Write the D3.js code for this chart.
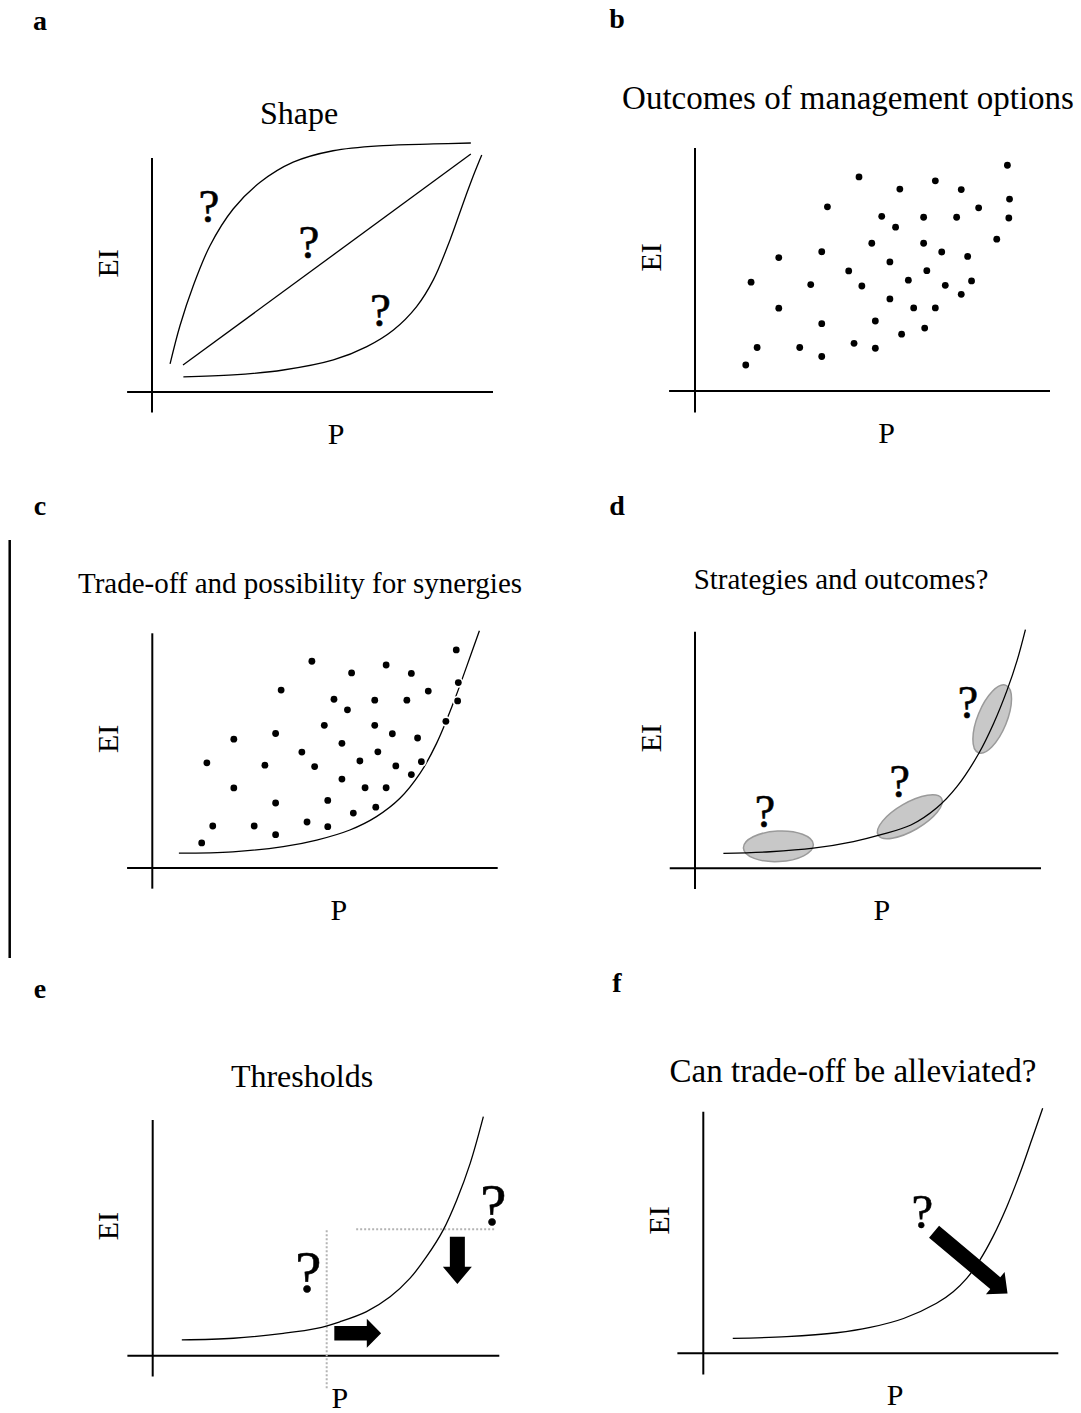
<!DOCTYPE html>
<html>
<head>
<meta charset="utf-8">
<script src="https://cdn.jsdelivr.net/npm/d3@7"></script>
<style>
  body { margin: 0; background: #fff; }
  svg { display: block; font-family: "Liberation Serif", "Times New Roman", serif; }
</style>
</head>
<body>
<div id="fig"></div>
<script>
// ---- data (P, EI in arbitrary units, axes run 0..100) ----
const panelIds = ["a", "b", "c", "d", "e", "f"];
const panelTitles = [
  "Shape",
  "Outcomes of management options",
  "Trade-off and possibility for synergies",
  "Strategies and outcomes?",
  "Thresholds",
  "Can trade-off be alleviated?"
];
const xLabel = "P";
const yLabel = "EI";

// a: three possible shapes of the relationship
const shapeConcave = [[5.3,12.0],[8.2,28.3],[12.1,45.4],[17.0,62.5],[23.8,78.2],[31.7,89.6],[41.4,98.2],[53.1,103.1],[67.8,105.3],[82.5,106.0],[93.5,106.4]];
const shapeLinear = [[9.1,11.5],[93.5,101.7]];
const shapeConvex = [[9.2,6.5],[23.8,7.3],[38.5,9.4],[53.2,13.7],[63.0,19.4],[70.8,26.5],[77.6,36.5],[82.5,47.9],[87.4,65.0],[90.0,75.5],[92.3,84.9],[94.6,93.8],[96.7,101.3]];
const shapeQuestions = [[16.7,72.8],[46.0,57.1],[67.0,28.3]];

// b, c: outcomes of management options
const optionP  = [88.0,46.2,67.7,57.7,75.0,88.6,37.3,79.9,52.6,64.4,73.7,88.4,56.5,85.0,49.8,64.4,23.6,35.7,69.5,76.8,54.9,43.3,65.3,15.8,32.6,47.0,60.1,70.5,77.9,54.9,75.0,23.6,61.6,67.7,35.7,50.8,64.7,58.2,17.5,29.5,44.8,35.7,50.8,14.3];
const optionEI = [92.9,88.1,86.5,83.1,82.9,79.0,75.8,75.4,71.9,71.5,71.5,71.2,67.4,62.5,60.8,60.8,54.9,57.3,57.2,55.4,53.1,49.4,49.5,44.8,43.8,43.2,45.6,43.5,45.3,37.9,39.8,34.1,34.2,34.2,27.7,28.8,25.9,23.4,17.9,17.9,19.6,14.2,17.6,10.7];

// c: trade-off frontier
const frontierC = [[7.7,6.3],[23.3,6.9],[37.9,9.1],[47.6,11.9],[57.2,16.2],[64.9,21.9],[71.7,29.7],[77.5,40.3],[82.3,53.1],[87.1,70.1],[91.0,85.8],[94.7,101.1]];

// d: strategies along the trade-off curve
const frontierD = [[8.2,6.3],[21.7,7.0],[34.2,8.5],[45.8,11.3],[53.5,14.1],[62.4,18.3],[69.9,25.6],[75.7,34.5],[82.0,48.5],[86.3,61.2],[90.2,75.3],[93.1,87.9],[95.5,100.9]];
const strategyP  = [24.1, 62.1, 85.9];
const strategyEI = [9.3, 21.8, 63.1];
const strategyQuestions = [[20.2,17.5],[59.2,30.0],[78.9,63.4]];

// e: thresholds
const frontierE = [[8.4,6.7],[23.3,7.4],[37.7,9.5],[47.3,11.6],[54.0,14.4],[61.7,18.7],[68.5,25.0],[74.2,32.8],[79.0,42.0],[83.8,53.3],[87.7,66.0],[91.6,81.6],[95.4,101.4]];
const thresholdP = 50.2;            // vertical threshold on P
const thresholdEI = 53.6;           // horizontal threshold on EI
const thresholdPSpan = [-13.8, 54.1];
const thresholdEISpan = [58.7, 98.8];
const thresholdArrows = [[[52.4,9.5],[65.9,9.5]], [[87.9,50.5],[87.9,30.4]]];
const thresholdQuestions = [[44.9,27.2],[98.3,55.6]];

// f: can the trade-off be alleviated
const frontierF = [[8.3,6.2],[23.5,6.9],[37.6,8.5],[47.0,10.7],[56.4,14.4],[65.7,20.7],[70.4,25.5],[74.2,31.0],[77.9,38.6],[81.6,48.3],[85.5,60.7],[89.2,74.5],[92.5,88.3],[95.6,101.4]];
const alleviateArrow = [[65.0,50.3],[85.7,24.8]];
const alleviateQuestion = [61.7,51.7];

// ---- layout ----
const panels = [
  { ox: 152,   oy: 392,    w: 341,   h: 234,   title: [299, 123.5, 32],  tag: [40, 30]   },
  { ox: 695,   oy: 391,    w: 355,   h: 243,   title: [848, 109, 33],    tag: [617, 28]  },
  { ox: 152.3, oy: 868,    w: 345.4, h: 234.7, title: [300, 593, 29],    tag: [40, 515]  },
  { ox: 695,   oy: 868.3,  w: 346,   h: 236.6, title: [841, 589, 29],    tag: [617, 515] },
  { ox: 152.7, oy: 1355.7, w: 346.6, h: 235.7, title: [302, 1087, 32],   tag: [40, 998]  },
  { ox: 703.3, oy: 1353.3, w: 355,   h: 241.6, title: [853, 1082, 33],   tag: [617, 992] }
];
const axisStartX = -7.3, axisStartY = -8.8;

const svg = d3.select('#fig')
  .append('svg')
  .attr('width', 1081)
  .attr('height', 1413);

svg.append('rect').attr('width', 1081).attr('height', 1413).attr('fill', '#fff');

// left rule next to panel c
svg.append('line')
  .attr('x1', 9.7).attr('x2', 9.7).attr('y1', 540).attr('y2', 958)
  .attr('stroke', '#000').attr('stroke-width', 2.5);

function curveLine(x, y) {
  return d3.line()
    .x(d => x(d[0]))
    .y(d => y(d[1]))
    .curve(d3.curveCatmullRom.alpha(0.5));
}

function question(g, x, y, d, size) {
  g.append('text')
    .attr('x', x(d[0]))
    .attr('y', y(d[1]))
    .attr('text-anchor', 'middle')
    .attr('font-size', size)
    .attr('stroke', '#000')
    .attr('stroke-width', 0.6)
    .text('?');
}

function blockArrow(g, x, y, from, to, shaft, head, headLen) {
  const x0 = x(from[0]), y0 = y(from[1]), x1 = x(to[0]), y1 = y(to[1]);
  const L = Math.hypot(x1 - x0, y1 - y0);
  const ang = Math.atan2(y1 - y0, x1 - x0) * 180 / Math.PI;
  const p = d3.path();
  p.moveTo(0, -shaft);
  p.lineTo(L - headLen, -shaft);
  p.lineTo(L - headLen, -head);
  p.lineTo(L, 0);
  p.lineTo(L - headLen, head);
  p.lineTo(L - headLen, shaft);
  p.lineTo(0, shaft);
  p.closePath();
  g.append('path')
    .attr('d', p.toString())
    .attr('transform', `translate(${x0},${y0}) rotate(${ang})`)
    .attr('fill', '#000');
}

function dots(g, x, y) {
  const pts = optionP.map((p, i) => [p, optionEI[i]]);
  g.append('g').selectAll('circle')
    .data(pts)
    .join('circle')
      .attr('cx', d => x(d[0]))
      .attr('cy', d => y(d[1]))
      .attr('r', 5.2)
      .attr('fill', '#fff');
  g.append('g').selectAll('circle')
    .data(pts)
    .join('circle')
      .attr('cx', d => x(d[0]))
      .attr('cy', d => y(d[1]))
      .attr('r', 3.4)
      .attr('fill', '#000');
}

const drawers = {
  a(g, x, y) {
    const line = curveLine(x, y);
    [shapeConcave, shapeLinear, shapeConvex].forEach(s => {
      g.append('path').attr('d', line(s))
        .attr('fill', 'none').attr('stroke', '#000').attr('stroke-width', 1.3);
    });
    shapeQuestions.forEach(q => question(g, x, y, q, 47));
  },
  b(g, x, y) {
    dots(g, x, y);
  },
  c(g, x, y) {
    g.append('path').attr('d', curveLine(x, y)(frontierC))
      .attr('fill', 'none').attr('stroke', '#000').attr('stroke-width', 1.3);
    dots(g, x, y);
  },
  d(g, x, y) {
    const shapes = [[35, 15.3, -3], [36.6, 13.9, -30], [36.4, 14.6, -67.7]];
    strategyP.forEach((p, i) => {
      const [rx, ry, rot] = shapes[i];
      g.append('ellipse')
        .attr('rx', rx).attr('ry', ry)
        .attr('transform', `translate(${x(p)},${y(strategyEI[i])}) rotate(${rot})`)
        .attr('fill', '#c8c8c8')
        .attr('stroke', '#9a9a9a')
        .attr('stroke-width', 1.5);
    });
    g.append('path').attr('d', curveLine(x, y)(frontierD))
      .attr('fill', 'none').attr('stroke', '#000').attr('stroke-width', 1.3);
    strategyQuestions.forEach(q => question(g, x, y, q, 46));
  },
  e(g, x, y) {
    g.append('line')
      .attr('x1', x(thresholdP)).attr('x2', x(thresholdP))
      .attr('y1', y(thresholdPSpan[0])).attr('y2', y(thresholdPSpan[1]))
      .attr('stroke', '#b4b4b4').attr('stroke-width', 2).attr('stroke-dasharray', '2,2');
    g.append('line')
      .attr('x1', x(thresholdEISpan[0])).attr('x2', x(thresholdEISpan[1]))
      .attr('y1', y(thresholdEI)).attr('y2', y(thresholdEI))
      .attr('stroke', '#b4b4b4').attr('stroke-width', 2).attr('stroke-dasharray', '2,2');
    g.append('path').attr('d', curveLine(x, y)(frontierE))
      .attr('fill', 'none').attr('stroke', '#000').attr('stroke-width', 1.3);
    blockArrow(g, x, y, thresholdArrows[0][0], thresholdArrows[0][1], 7.2, 14.5, 14.3);
    blockArrow(g, x, y, thresholdArrows[1][0], thresholdArrows[1][1], 7.5, 14.5, 17.3);
    thresholdQuestions.forEach(q => question(g, x, y, q, 59));
  },
  f(g, x, y) {
    g.append('path').attr('d', curveLine(x, y)(frontierF))
      .attr('fill', 'none').attr('stroke', '#000').attr('stroke-width', 1.3);
    blockArrow(g, x, y, alleviateArrow[0], alleviateArrow[1], 7.8, 14.5, 16);
    question(g, x, y, alleviateQuestion, 49);
  }
};

panels.forEach((p, i) => {
  const id = panelIds[i];
  const x = d3.scaleLinear().domain([0, 100]).range([p.ox, p.ox + p.w]);
  const y = d3.scaleLinear().domain([0, 100]).range([p.oy, p.oy - p.h]);
  const g = svg.append('g').attr('class', 'panel-' + id);

  // panel tag
  g.append('text')
    .attr('x', p.tag[0]).attr('y', p.tag[1])
    .attr('text-anchor', 'middle')
    .attr('font-size', 28)
    .attr('font-weight', 'bold')
    .text(id);

  // title
  g.append('text')
    .attr('x', p.title[0]).attr('y', p.title[1])
    .attr('text-anchor', 'middle')
    .attr('font-size', p.title[2])
    .text(panelTitles[i]);

  // axes
  g.append('line')
    .attr('x1', x(axisStartX)).attr('x2', x(100))
    .attr('y1', y(0)).attr('y2', y(0))
    .attr('stroke', '#000').attr('stroke-width', 2);
  g.append('line')
    .attr('x1', x(0)).attr('x2', x(0))
    .attr('y1', y(axisStartY)).attr('y2', y(100))
    .attr('stroke', '#000').attr('stroke-width', 2);

  // axis labels
  g.append('text')
    .attr('x', x(54)).attr('y', y(0) + 52)
    .attr('text-anchor', 'middle')
    .attr('font-size', 30)
    .text(xLabel);
  g.append('text')
    .attr('transform', `translate(${x(0) - 45},${y(55)}) rotate(-90)`)
    .attr('text-anchor', 'middle')
    .attr('dominant-baseline', 'central')
    .attr('font-size', 30)
    .text(yLabel);

  drawers[id](g, x, y);
});
</script>
</body>
</html>
